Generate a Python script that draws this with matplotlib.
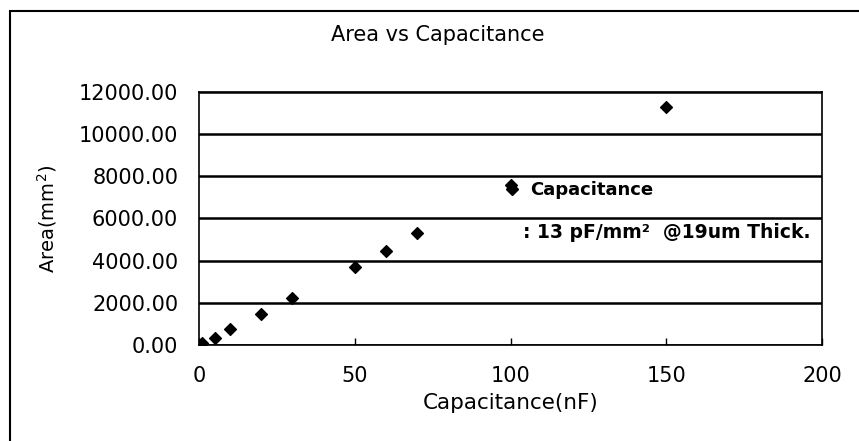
import matplotlib.pyplot as plt
from matplotlib.lines import Line2D
from matplotlib.patches import Rectangle

# values
capacitance_nf = [1, 5, 10, 20, 30, 50, 60, 70, 100, 150]
area_mm2 = [77, 350, 750, 1460, 2240, 3720, 4470, 5290, 7600, 11300]
y_ticks = [0, 2000, 4000, 6000, 8000, 10000, 12000]
x_ticks = [0, 50, 100, 150, 200]

plt.rcParams['font.family'] = ['DejaVu Sans']

fig = plt.figure(figsize=(8.59, 4.41), dpi=100)
ax = fig.add_axes([0.2317, 0.2177, 0.7253, 0.5737])

ax.scatter(capacitance_nf, area_mm2, marker='D', s=36, color='black', zorder=3)

ax.set_xlim(0, 200)
ax.set_ylim(0, 12000)
ax.set_xticks(x_ticks)
ax.set_yticks(y_ticks)
ax.set_yticklabels([f'{v:.2f}' for v in y_ticks])
ax.tick_params(axis='x', direction='in', length=5, width=1, labelsize=15, pad=15)
ax.tick_params(axis='y', length=0, labelsize=15, pad=15)
ax.grid(axis='y', color='black', linewidth=1.8)
ax.set_axisbelow(True)
for sp in ax.spines.values():
    sp.set_linewidth(1.2)

ax.set_xlabel('Capacitance(nF)', fontsize=15.5, labelpad=5)
ax.set_ylabel('Area(mm$^2$)', fontsize=14, labelpad=14)
fig.text(0.51, 0.92, 'Area vs Capacitance', ha='center', va='center', fontsize=15)

handle = Line2D([], [], marker='D', color='black', linestyle='none', markersize=6.5)
ax.legend([handle], ['Capacitance'], loc='center left', bbox_to_anchor=(0.488, 0.6126),
          frameon=False, prop={'weight': 'bold', 'size': 13},
          handlelength=1.0, handletextpad=0.5, borderpad=0, borderaxespad=0)
ax.text(0.52, 0.4427, ': 13 pF/mm²  @19um Thick.', transform=ax.transAxes,
        fontsize=13.5, fontweight='bold', ha='left', va='center')

# outer chart border
fig.patches.append(Rectangle((0.012, -0.01), 1.0, 0.985, transform=fig.transFigure,
                             fill=False, edgecolor='black', linewidth=1.5))

fig.savefig('out.png', dpi=100)
